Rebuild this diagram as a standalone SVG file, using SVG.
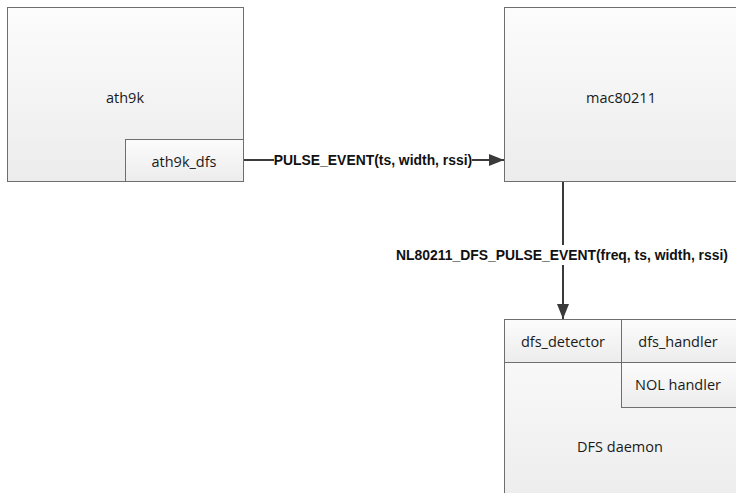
<svg xmlns="http://www.w3.org/2000/svg" width="736" height="493" viewBox="0 0 736 493">
  <style>
    .box { stroke: #6e6e6e; stroke-width: 1; fill: url(#boxfill); }
    .lbl { font-family: "Open Sans", "Liberation Sans", sans-serif; font-size: 14.5px; fill: #1a1a1a; text-anchor: middle; dominant-baseline: central; }
    .elbl { font-family: "Liberation Sans", "Open Sans", sans-serif; font-size: 13.9px; font-weight: bold; fill: #111; text-anchor: middle; dominant-baseline: central; }
    .conn { stroke: #3a3a3a; stroke-width: 2; fill: none; }
  </style>
  <defs>
    <linearGradient id="boxfill" x1="0" y1="0" x2="0" y2="1">
      <stop offset="0" stop-color="#fcfcfc"/>
      <stop offset="1" stop-color="#ececec"/>
    </linearGradient>
    <marker id="arrow" viewBox="0 0 15 12" refX="15" refY="6" markerWidth="15" markerHeight="12" orient="auto" markerUnits="userSpaceOnUse">
      <path d="M0,0 L15,6 L0,12 Z" fill="#3a3a3a"/>
    </marker>
  </defs>

  <rect width="736" height="493" fill="#ffffff"/>

  <g id="ath9k">
    <rect class="box" x="7.5" y="7.5" width="236" height="174"/>
    <text class="lbl" x="125" y="97">ath9k</text>
  </g>
  <g id="ath9k_dfs">
    <rect class="box" x="125.5" y="139.5" width="118" height="42"/>
    <text class="lbl" x="184" y="161">ath9k_dfs</text>
  </g>

  <g id="mac80211">
    <rect class="box" x="504.5" y="7.5" width="240" height="174"/>
    <text class="lbl" x="621" y="97">mac80211</text>
  </g>

  <g id="dfs_daemon">
    <rect class="box" x="504.5" y="319.5" width="240" height="190"/>
    <text class="lbl" x="620" y="446">DFS daemon</text>
  </g>
  <g id="dfs_detector">
    <rect class="box" x="504.5" y="319.5" width="117" height="43"/>
    <text class="lbl" x="563" y="341">dfs_detector</text>
  </g>
  <g id="dfs_handler">
    <rect class="box" x="621.5" y="319.5" width="123" height="43"/>
    <text class="lbl" x="678" y="341">dfs_handler</text>
  </g>
  <g id="nol_handler">
    <rect class="box" x="621.5" y="362.5" width="123" height="45"/>
    <text class="lbl" x="678" y="384">NOL handler</text>
  </g>

  <g id="connectors">
    <path class="conn" d="M244,160 H274"/>
    <path class="conn" d="M472,160 H504" marker-end="url(#arrow)"/>
    <text class="elbl" x="373" y="160">PULSE_EVENT(ts, width, rssi)</text>

    <path class="conn" d="M563,182 V245"/>
    <path class="conn" d="M563,265 V319" marker-end="url(#arrow)"/>
    <text class="elbl" x="562" y="255">NL80211_DFS_PULSE_EVENT(freq, ts, width, rssi)</text>
  </g>
</svg>
